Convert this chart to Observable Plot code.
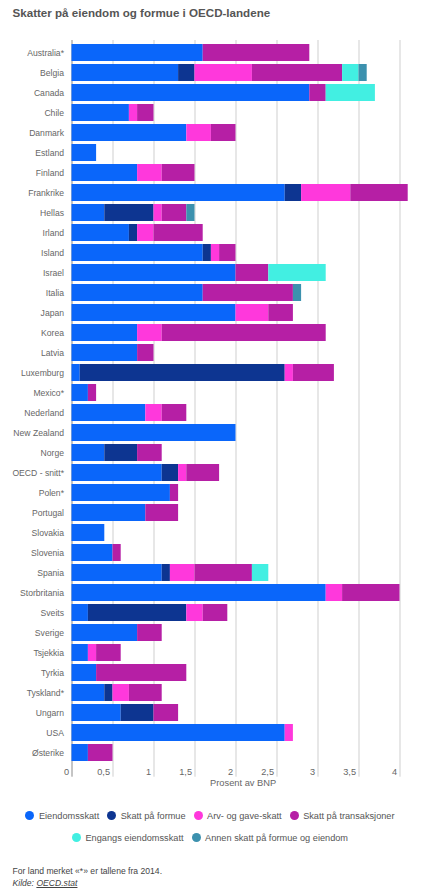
<!DOCTYPE html>
<html>
<head>
<meta charset="utf-8">
<script src="https://cdn.jsdelivr.net/npm/d3@7"></script>
<script src="https://cdn.jsdelivr.net/npm/@observablehq/plot@0.6"></script>
<style>
  body { margin: 0; background: #fff; font-family: "Liberation Sans", Arial, sans-serif; width: 437px; }
  #title { height: 30px; box-sizing: border-box; padding: 6.3px 0 0 12.5px; font-size: 11.6px; line-height: 14px; font-weight: bold; color: #555; }
  #chart svg { display: block; }
  #legend { box-sizing: border-box; padding: 4.7px 17px 0 0; height: 49px; font-size: 9.2px; color: #555; }
  .lrow { display: flex; justify-content: center; align-items: center; height: 22px; }
  .litem { display: flex; align-items: center; margin: 0 4px; white-space: nowrap; }
  .dot { width: 9px; height: 9px; border-radius: 50%; margin-right: 4.5px; }
  #footer { margin-top: 16px; padding-left: 12.5px; font-size: 8.6px; line-height: 12px; color: #444; }
  #footer u { font-style: italic; }
</style>
</head>
<body>
<div id="title">Skatter på eiendom og formue i OECD-landene</div>
<div id="chart"></div>
<div id="legend"></div>
<div id="footer">
  <div>For land merket «*» er tallene fra 2014.</div>
  <div><i>Kilde: <u>OECD.stat</u></i></div>
</div>
<script>
const countries = ["Australia*","Belgia","Canada","Chile","Danmark","Estland","Finland","Frankrike","Hellas","Irland","Island","Israel","Italia","Japan","Korea","Latvia","Luxemburg","Mexico*","Nederland","New Zealand","Norge","OECD - snitt*","Polen*","Portugal","Slovakia","Slovenia","Spania","Storbritania","Sveits","Sverige","Tsjekkia","Tyrkia","Tyskland*","Ungarn","USA","Østerike"];

const types = ["Eiendomsskatt","Skatt på formue","Arv- og gave-skatt","Skatt på transaksjoner","Engangs eiendomsskatt","Annen skatt på formue og eiendom"];
const colors = ["#0a66fa","#0d3591","#ff38dc","#b61fa5","#42efe2","#3c91ae"];

//                    Aus  Bel  Can  Chi  Dan  Est  Fin  Fra  Hel  Irl  Isl  Isr  Ita  Jap  Kor  Lat  Lux  Mex  Ned  NZ   Nor  OECD Pol  Por  Svk  Svn  Spa  GB   Sve  Swe  Cze  Tur  Ger  Hun  USA  Aut
const eiendomsskatt = [1.6, 1.3, 2.9, 0.7, 1.4, 0.3, 0.8, 2.6, 0.4, 0.7, 1.6, 2.0, 1.6, 2.0, 0.8, 0.8, 0.1, 0.2, 0.9, 2.0, 0.4, 1.1, 1.2, 0.9, 0.4, 0.5, 1.1, 3.1, 0.2, 0.8, 0.2, 0.3, 0.4, 0.6, 2.6, 0.2];
const skattFormue   = [0,   0.2, 0,   0,   0,   0,   0,   0.2, 0.6, 0.1, 0.1, 0,   0,   0,   0,   0,   2.5, 0,   0,   0,   0.4, 0.2, 0,   0,   0,   0,   0.1, 0,   1.2, 0,   0,   0,   0.1, 0.4, 0,   0];
const arvGave       = [0,   0.7, 0,   0.1, 0.3, 0,   0.3, 0.6, 0.1, 0.2, 0.1, 0,   0,   0.4, 0.3, 0,   0.1, 0,   0.2, 0,   0,   0.1, 0,   0,   0,   0,   0.3, 0.2, 0.2, 0,   0.1, 0,   0.2, 0,   0.1, 0];
const transaksjoner = [1.3, 1.1, 0.2, 0.2, 0.3, 0,   0.4, 0.7, 0.3, 0.6, 0.2, 0.4, 1.1, 0.3, 2.0, 0.2, 0.5, 0.1, 0.3, 0,   0.3, 0.4, 0.1, 0.4, 0,   0.1, 0.7, 0.7, 0.3, 0.3, 0.3, 1.1, 0.4, 0.3, 0,   0.3];
const engangs       = [0,   0.2, 0.6, 0,   0,   0,   0,   0,   0,   0,   0,   0.7, 0,   0,   0,   0,   0,   0,   0,   0,   0,   0,   0,   0,   0,   0,   0.2, 0,   0,   0,   0,   0,   0,   0,   0,   0];
const annen         = [0,   0.1, 0,   0,   0,   0,   0,   0,   0.1, 0,   0,   0,   0.1, 0,   0,   0,   0,   0,   0,   0,   0,   0,   0,   0,   0,   0,   0,   0,   0,   0,   0,   0,   0,   0,   0,   0];

const xTicks = [0, 0.5, 1, 1.5, 2, 2.5, 3, 3.5, 4];
const xLabel = "Prosent av BNP";

const series = [eiendomsskatt, skattFormue, arvGave, transaksjoner, engangs, annen];
const rows = types.flatMap((t, i) => countries.map((c, j) => ({country: c, type: t, value: series[i][j]}))).filter(d => d.value > 0);

const font = "'Liberation Sans', Arial, sans-serif";
const chart = Plot.plot({
  width: 437,
  height: 770,
  marginTop: 10.4,
  marginBottom: 35.9,
  marginLeft: 71.5,
  marginRight: 29.3,
  x: {domain: [0, 4.1]},
  y: {domain: countries, padding: 0.13},
  color: {domain: types, range: colors},
  style: {fontFamily: font, color: "#666", background: "white", overflow: "visible"},
  marks: [
    Plot.ruleX(xTicks.filter(t => t > 0), {stroke: "#cfcfcf", strokeWidth: 1, insetTop: -0.4, insetBottom: -12.6}),
    Plot.ruleX([0], {stroke: "#8a8a8a", strokeWidth: 1, insetTop: -0.4, insetBottom: -12.6}),
    Plot.barX(rows, Plot.stackX({x: "value", y: "country", fill: "type", order: null})),
    Plot.axisX({ticks: xTicks, tickSize: 0, tickPadding: 4.3, tickFormat: d => String(d).replace(".", ","), textAnchor: "end", dx: -3, fontSize: 9.2, fill: "#666", label: null}),
    Plot.axisY({tickSize: 0, tickPadding: 8, fontSize: 8.6, fill: "#666", label: null}),
    Plot.text([xLabel], {frameAnchor: "bottom", dy: 21.6, dx: 3, fontSize: 9.3, fill: "#666"})
  ]
});
document.getElementById("chart").appendChild(chart);

const legend = document.getElementById("legend");
const groups = [types.slice(0, 4), types.slice(4)];
groups.forEach(g => {
  const row = document.createElement("div");
  row.className = "lrow";
  g.forEach(t => {
    const it = document.createElement("div");
    it.className = "litem";
    const dot = document.createElement("span");
    dot.className = "dot";
    dot.style.background = colors[types.indexOf(t)];
    const lab = document.createElement("span");
    lab.textContent = t;
    it.appendChild(dot);
    it.appendChild(lab);
    row.appendChild(it);
  });
  legend.appendChild(row);
});
</script>
</body>
</html>
